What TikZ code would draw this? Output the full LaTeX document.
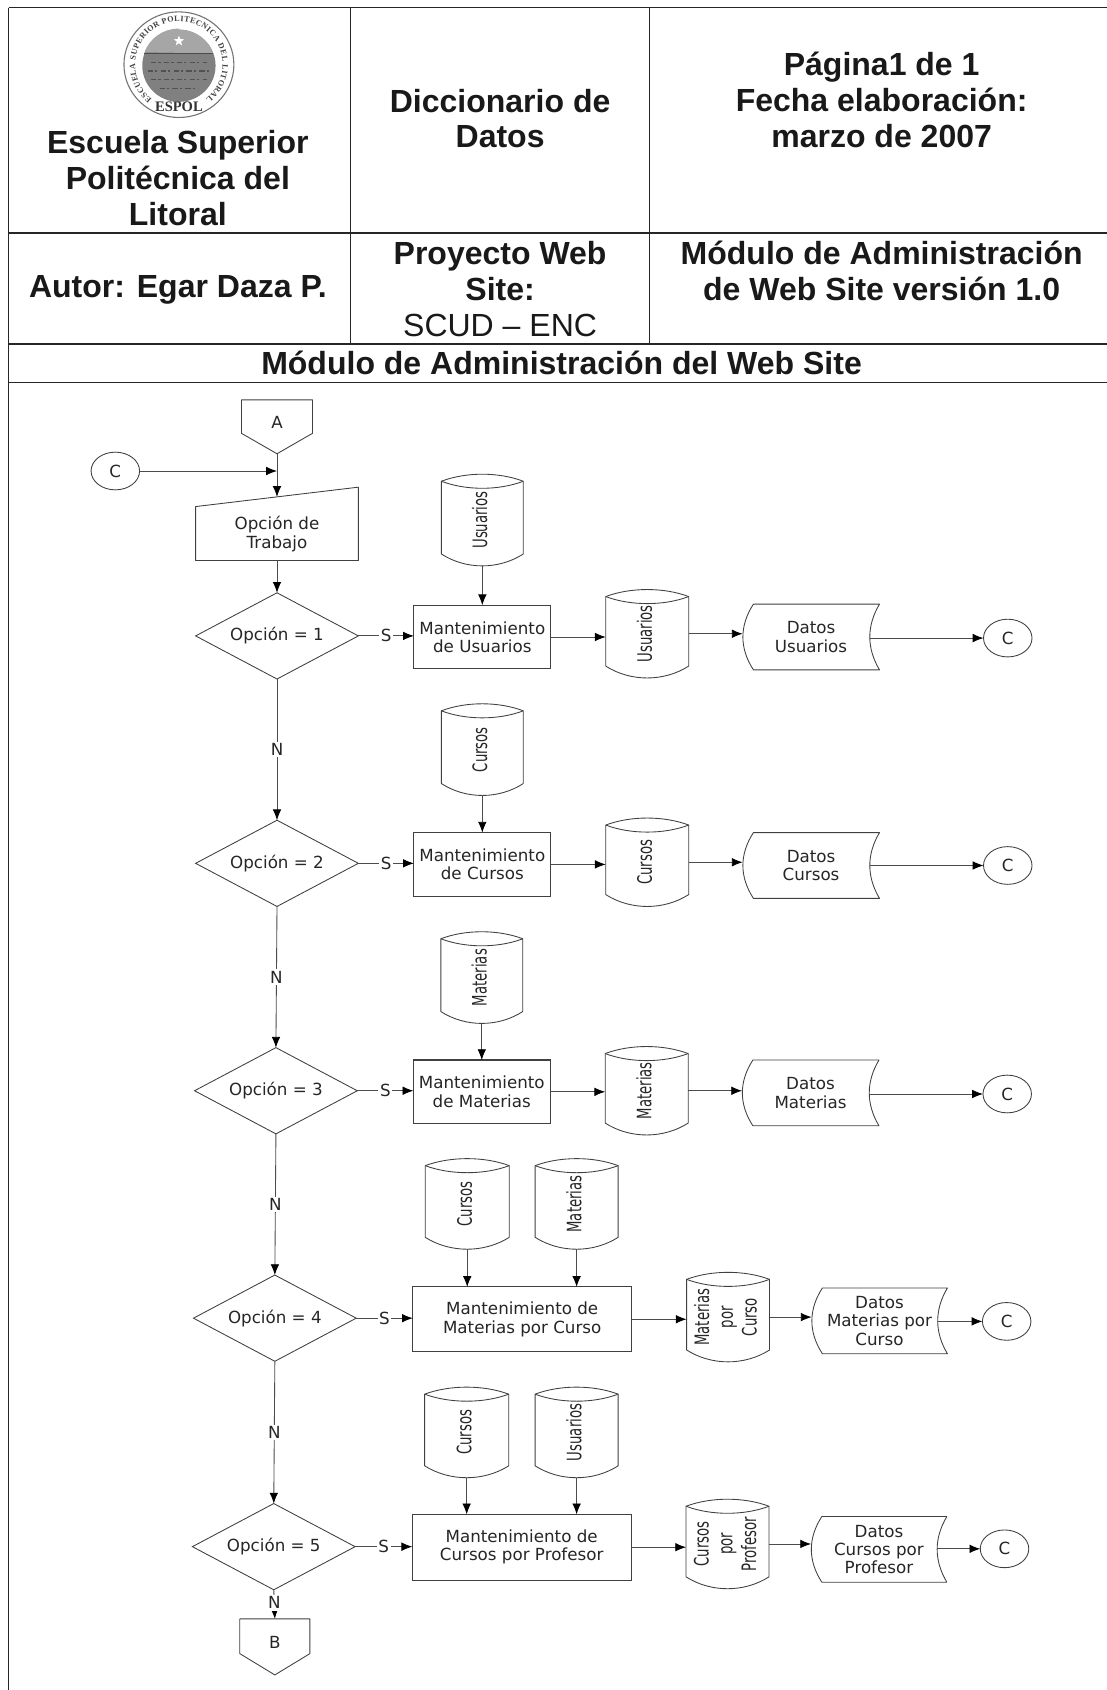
\documentclass[tikz,border=0pt]{standalone}
\usepackage{fontspec}
\setmainfont{DejaVu Sans}
\newfontfamily\headfont{Liberation Sans}
\newfontfamily\sealfont{Liberation Serif}
\usetikzlibrary{arrows.meta,shapes.geometric,decorations.text,calc}
\newcommand\flowfont{\fontsize{15.5}{17}\selectfont}
\newcommand\cylfont{\fontsize{12.3}{14.7}\selectfont}
\tikzset{
  ghost/.style={inner sep=0pt,outer sep=0pt,align=center,font=\flowfont,text=black!85},
  outl/.style={draw=black!75,line width=0.8pt,line join=round},
  flow/.style={draw=black!70,line width=0.8pt,-{Latex[length=10pt,width=8pt,black]}},
  lbl/.style={fill=white,inner sep=1.5pt,font=\flowfont,text=black!85},
  dec/.style={diamond,draw=black!75,line width=0.8pt,aspect=1.89,minimum width=151pt,minimum height=80pt,inner sep=0pt,outer sep=0pt,font=\flowfont,text=black!85,fill=white},
  proc/.style={draw=black!75,line width=1pt,inner sep=0pt,outer sep=0pt,align=center,font=\flowfont,text=black!85},
  circ/.style={ellipse,draw=black!75,line width=0.8pt,inner sep=0pt,outer sep=0pt,minimum width=45pt,minimum height=35pt,font=\flowfont,text=black!85},
  tabline/.style={draw=black!85,line width=1.3pt},
  headb/.style={inner sep=0pt,align=center,font=\headfont\bfseries\fontsize{29.7}{33.3}\selectfont,text=black!90},
}
\newcommand\dbcyl[6]{% name cx cy w h text
  \node[ghost,minimum width=#4pt,minimum height=#5pt] (#1) at (#2,#3) {\rotatebox{90}{\scalebox{1}[1.5]{\cylfont\begin{tabular}{@{}c@{}}#6\end{tabular}}}};
  \path (#1.north west) ++(0,6.5) coordinate (#1-tl);
  \path (#1.south west) ++(0,-11) coordinate (#1-bl);
  \draw[outl] (#1-tl) .. controls +(#4*0.3,-8.7) and +(-#4*0.3,-8.7) .. +(#4,0)
     -- ++(#4,0) -- (#1-bl -| #1.east)
     .. controls +(-#4*0.3,14.7) and +(#4*0.3,14.7) .. (#1-bl) -- cycle;
  \draw[outl] (#1-tl) .. controls +(#4*0.3,8.7) and +(-#4*0.3,8.7) .. +(#4,0);
}
\newcommand\datadoc[6]{% name cx cy w h text
  \node[ghost,minimum width=#4pt,minimum height=#5pt] (#1) at (#2,#3) {#6};
  \draw[outl] (#1.north west) ++(10,0) coordinate (#1-a) -- (#1.north east)
     .. controls +(-12,#5*0.33) and +(-12,-#5*0.33) .. (#1.south east)
     -- ++(-#4+10,0)
     .. controls +(-13,-#5*0.33) and +(-13,#5*0.33) .. (#1-a) -- cycle;
}
\newcommand\offpage[6]{% name cx top w h text
  \node[ghost,minimum width=#4pt,minimum height=#5pt,anchor=north] (#1) at (#2,#3) {};
  \draw[outl] (#1.north west) -- (#1.north east) -- ++(0,#5*0.62) -- (#1.south) -- ($(#1.north west)+(0,#5*0.62)$) -- cycle;
  \node[ghost] (#1-t) at ($(#1.north)+(0,#5*0.42)$) {#6};
}
\begin{document}
\begin{tikzpicture}[x=1pt,y=-1pt]
\useasboundingbox (0,0) rectangle (1027,1568);
\fill[white] (0,0) rectangle (1027,1568);
% table frame
\draw[tabline] (8,7) -- (8,1568);
\draw[tabline] (8,7) -- (1027,7);
\draw[tabline] (8,216) -- (1027,216);
\draw[tabline] (8,319) -- (1027,319);
\draw[tabline] (8,355) -- (1027,355);
\draw[tabline,line width=1pt] (325,7) -- (325,319);
\draw[tabline,line width=1pt] (603,7) -- (603,319);
% seal
\begin{scope}[shift={(166,60)},x=1pt,y=1pt]
  \draw[black!55,line width=1pt] (0,0) ellipse (51 and 49);
  \fill[black!50] (0,-1) ellipse (34 and 33.5);
  \fill[black!35] (0,32.5) arc[start angle=90,end angle=20,x radius=34,y radius=33.5] -- (-32,11.5) arc[start angle=160,end angle=90,x radius=34,y radius=33.5] -- cycle;
  \draw[black!70,line width=0.8pt] (-32,10.5) -- (32,10.5);
  \foreach \yy/\ww in {2/26,-6/29,-14/26,-22/18}{
    \draw[black!68,line width=1.3pt,dash pattern=on 5pt off 2pt on 2pt off 3pt] (-\ww,\yy) -- (\ww,\yy);
  }
  \node[star,star points=5,star point ratio=2.4,fill=white,inner sep=0pt,minimum size=10pt] (sealstar) at (0,22) {};
  \path[decorate,decoration={text along path,text align={fit to path},
     text={|\sealfont\bfseries\fontsize{7.5}{8}\selectfont\color{black!75}|ESCUELA SUPERIOR POLITECNICA DEL LITORAL}}]
     (232:40.5) arc[start angle=232,end angle=-52,radius=40.5];
  \node[font=\sealfont\bfseries\fontsize{13.5}{13.5}\selectfont,text=black!80,inner sep=0pt] (espol) at (0,-39) {ESPOL};
\end{scope}
% header texts
\node[headb] (h1) at (165,165) {Escuela Superior\\Politécnica del\\Litoral};
\node[headb] (h2) at (464,110) {Diccionario de\\Datos};
\node[headb] (h3) at (818,93) {Página1 de 1\\Fecha elaboración:\\marzo de 2007};
\node[headb] (h4) at (165,269) {Autor: Egar Daza P.};
\node[headb] (h5) at (464,268) {Proyecto Web\\Site:\\{\mdseries SCUD – ENC}};
\node[headb] (h6) at (818,251) {Módulo de Administración\\de Web Site versión 1.0};
\node[headb] (h7) at (521,337) {Módulo de Administración del Web Site};
% start
\offpage{A}{257}{371}{66}{50}{A}
\node[circ] (CL) at (107,437) {C};
% input
\node[ghost,minimum width=151pt,minimum height=68pt] (inp) at (257,486) {};
\node[ghost] (inp-t) at (257,495.5) {Opción de\\Trabajo};
\draw[outl] (inp.south west) -- ($(inp.north west)+(0,18)$) coordinate (inpL) -- (inp.north east) -- (inp.south east) -- cycle;
\coordinate (inpTop) at ($(inp.north)+(0,9)$);
\coordinate (junc) at (A.south |- CL.east);
\draw[flow] (A.south) -- (inpTop);
\draw[flow] (CL.east) -- (junc);
% rows
\node[dec] (d1) at (257,590) {Opción = 1};
\node[dec] (d2) at (257,801) {Opción = 2};
\node[dec] (d3) at (256,1012) {Opción = 3};
\node[dec] (d4) at (255,1223) {Opción = 4};
\node[dec] (d5) at (254,1435) {Opción = 5};
\draw[flow] (inp.south) -- (d1.north);
\draw[flow] (d1.south) -- node[lbl] (n1) {N} (d2.north);
\draw[flow] (d2.south) -- node[lbl] (n2) {N} (d3.north);
\draw[flow] (d3.south) -- node[lbl] (n3) {N} (d4.north);
\draw[flow] (d4.south) -- node[lbl] (n4) {N} (d5.north);
\offpage{B}{255}{1502}{65}{52}{B}
\draw[flow] (d5.south) -- node[lbl,pos=0.45] (n5) {N} (B.north);
% row 1
\node[proc,minimum width=127pt,minimum height=59pt] (r1) at (447.5,591) {Mantenimiento\\de Usuarios};
\dbcyl{t1}{447.5}{482.5}{76}{85}{Usuarios}
\dbcyl{s1}{600.5}{588}{77}{82}{Usuarios}
\datadoc{o1}{752.5}{591}{127}{61}{Datos\\Usuarios}
\node[circ] (c1) at (935,592) {C};
% row 2
\node[proc,minimum width=127pt,minimum height=59pt] (r2) at (447.5,802) {Mantenimiento\\de Cursos};
\dbcyl{t2}{447.5}{695.5}{76}{85}{Cursos}
\dbcyl{s2}{600.5}{800}{77}{82}{Cursos}
\datadoc{o2}{752.5}{803}{127}{61}{Datos\\Cursos}
\node[circ] (c2) at (935,803) {C};
% row 3
\node[proc,minimum width=127pt,minimum height=59pt] (r3) at (447,1013) {Mantenimiento\\de Materias};
\dbcyl{t3}{447}{907}{76}{85}{Materias}
\dbcyl{s3}{600}{1012}{77}{82}{Materias}
\datadoc{o3}{752}{1014}{127}{61}{Datos\\Materias}
\node[circ] (c3) at (934.5,1015) {C};
% row 4
\node[proc,minimum width=203pt,minimum height=60pt] (r4) at (484.5,1224) {Mantenimiento de\\Materias por Curso};
\dbcyl{t4a}{433.5}{1117}{78}{84}{Cursos}
\dbcyl{t4b}{535}{1117}{77}{84}{Materias}
\dbcyl{s4}{675.5}{1222}{77}{83}{Materias\\por\\Curso}
\datadoc{o4}{816}{1225.5}{126}{61}{Datos\\Materias por\\Curso}
\node[circ] (c4) at (934,1226) {C};
% row 5
\node[proc,minimum width=203pt,minimum height=61pt] (r5) at (484,1435.5) {Mantenimiento de\\Cursos por Profesor};
\dbcyl{t5a}{433}{1329}{78}{84}{Cursos}
\dbcyl{t5b}{535}{1329}{77}{84}{Usuarios}
\dbcyl{s5}{675}{1432.5}{77}{83}{Cursos\\por\\Profesor}
\datadoc{o5}{815.5}{1437.5}{126}{61}{Datos\\Cursos  por\\Profesor}
\node[circ] (c5) at (932,1437) {C};
% horizontal flows
\foreach \i in {1,2,3,4,5}{
  \draw[flow] (d\i.east) -- node[lbl] (sl\i) {S} (d\i.east -| r\i.west);
  \draw[flow] (r\i.east) -- (r\i.east -| s\i.west);
  \draw[flow] (s\i.east) -- (s\i.east -| o\i.west);
  \path (o\i.east |- c\i.west) ++(-9,0) coordinate (oe\i);
  \draw[flow] (oe\i) -- (c\i.west);
}
% feeds
\foreach \a/\r in {t1/r1,t2/r2,t3/r3,t4a/r4,t4b/r4,t5a/r5,t5b/r5}{
  \draw[flow] (\a.south) -- (\a.south |- \r.north);
}
\end{tikzpicture}
\end{document}
